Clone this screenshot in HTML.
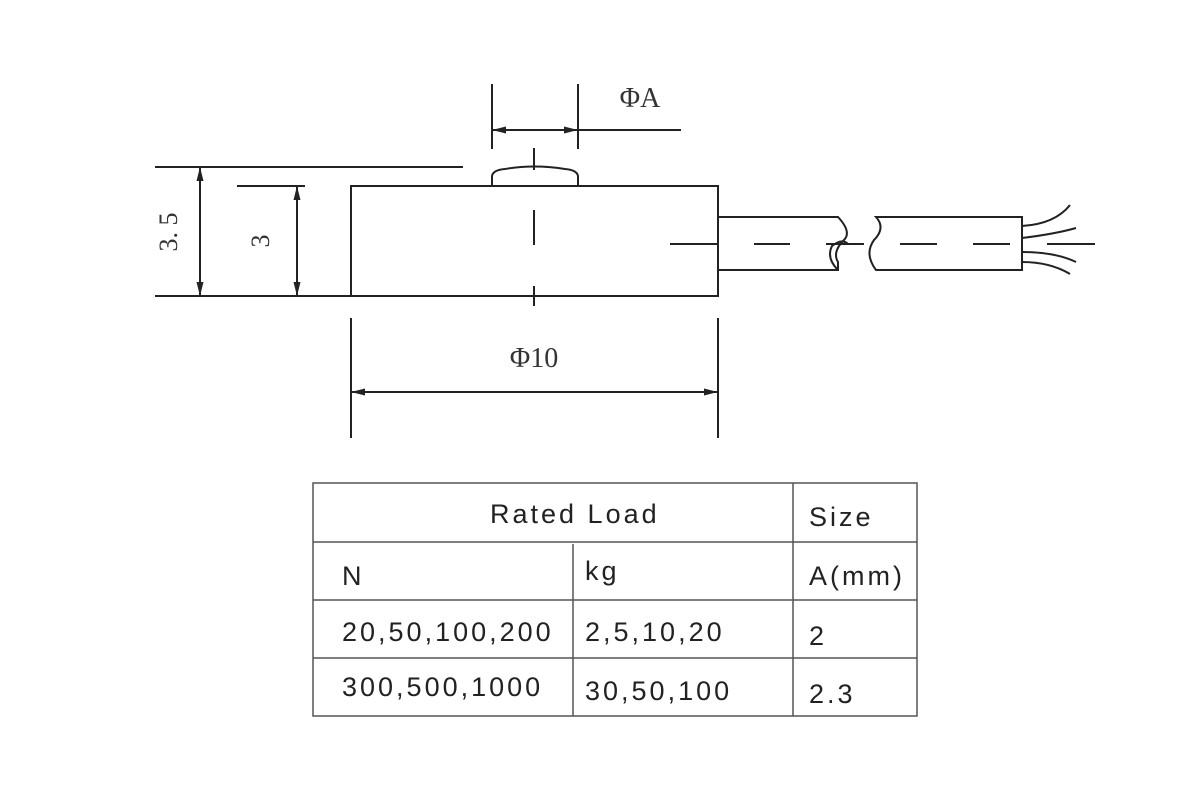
<!DOCTYPE html>
<html><head><meta charset="utf-8"><style>
html,body{margin:0;padding:0;background:#fff;}
svg{display:block;}
.t{font-family:"Liberation Sans",sans-serif;font-size:27px;fill:#222;letter-spacing:3px;}
.s{font-family:"Liberation Serif",serif;fill:#333;}
</style></head><body>
<svg width="1180" height="800" viewBox="0 0 1180 800" xmlns="http://www.w3.org/2000/svg">
<defs>
<marker id="a" markerWidth="14" markerHeight="8" refX="14" refY="4" orient="auto" markerUnits="userSpaceOnUse">
<path d="M0,0.5 L14,4 L0,7.5 Z" fill="#222"/></marker>
<marker id="b" markerWidth="14" markerHeight="8" refX="0" refY="4" orient="auto" markerUnits="userSpaceOnUse">
<path d="M14,0.5 L0,4 L14,7.5 Z" fill="#222"/></marker>
</defs>
<g stroke="#222" stroke-width="2" fill="none">
<!-- main body -->
<rect x="351" y="186" width="367" height="110"/>
<!-- bump -->
<path d="M492,186 L492,176 Q493,170 505,169 Q534,164 565,169 Q577,170 578,176 L578,186"/>
<!-- extension lines -->
<line x1="155" y1="167" x2="463" y2="167"/>
<line x1="155" y1="296" x2="351" y2="296"/>
<line x1="237" y1="186" x2="305" y2="186"/>
<!-- 3.5 dim -->
<line x1="200" y1="167" x2="200" y2="296" marker-start="url(#b)" marker-end="url(#a)"/>
<line x1="297" y1="186" x2="297" y2="296" marker-start="url(#b)" marker-end="url(#a)"/>
<!-- center line -->
<line x1="534" y1="148" x2="534" y2="170"/>
<line x1="534" y1="210" x2="534" y2="245"/>
<line x1="534" y1="286" x2="534" y2="306"/>
<!-- phi A -->
<line x1="492" y1="84" x2="492" y2="149"/>
<line x1="578" y1="84" x2="578" y2="149"/>
<line x1="492" y1="130" x2="578" y2="130" marker-start="url(#b)" marker-end="url(#a)"/>
<line x1="578" y1="130" x2="681" y2="130"/>
<!-- phi 10 -->
<line x1="351" y1="318" x2="351" y2="438"/>
<line x1="718" y1="318" x2="718" y2="438"/>
<line x1="351" y1="392" x2="718" y2="392" marker-start="url(#b)" marker-end="url(#a)"/>
<!-- cable -->
<path d="M718,217 L838,217 Q852,232 844,240 Q832,252 838,262 L838,270 L718,270"/>
<path d="M838,270 Q826,258 832,246 Q842,238 848,244"/>
<path d="M876,217 Q886,228 874,240 Q864,254 876,270 L1022,270 L1022,217 Z"/>
<line x1="670" y1="244" x2="718" y2="244"/>
<line x1="754" y1="244" x2="790" y2="244"/>
<line x1="826" y1="244" x2="864" y2="244"/>
<line x1="900" y1="244" x2="937" y2="244"/>
<line x1="973" y1="244" x2="1010" y2="244"/>
<line x1="1047" y1="244" x2="1095" y2="244"/>
<path d="M1022,226 Q1055,224 1070,205"/>
<path d="M1022,238 Q1055,234 1076,228"/>
<path d="M1022,252 Q1055,252 1076,262"/>
<path d="M1022,262 Q1050,262 1070,274"/>
</g>
<text class="s" font-size="28" x="640" y="107" text-anchor="middle">ΦA</text>
<text class="s" font-size="28" x="534" y="367" text-anchor="middle">Φ10</text>
<text class="s" font-size="26" transform="translate(177,232) rotate(-90)" text-anchor="middle">3. 5</text>
<text class="s" font-size="26" transform="translate(269,241) rotate(-90)" text-anchor="middle">3</text>
<!-- table -->
<g stroke="#555" stroke-width="1.5" fill="none">
<rect x="313" y="483" width="604" height="233"/>
<line x1="313" y1="542" x2="917" y2="542"/>
<line x1="313" y1="600" x2="917" y2="600"/>
<line x1="313" y1="658" x2="917" y2="658"/>
<line x1="793" y1="483" x2="793" y2="716"/>
<line x1="573" y1="544" x2="573" y2="716"/>
</g>
<text class="t" x="490" y="523" letter-spacing="1">Rated Load</text>
<text class="t" x="809" y="526" letter-spacing="1">Size</text>
<text class="t" x="342" y="585">N</text>
<text class="t" x="585" y="580">kg</text>
<text class="t" x="809" y="585" letter-spacing="1">A(mm)</text>
<text class="t" x="342" y="641">20,50,100,200</text>
<text class="t" x="585" y="641">2,5,10,20</text>
<text class="t" x="809" y="645">2</text>
<text class="t" x="342" y="696">300,500,1000</text>
<text class="t" x="585" y="700">30,50,100</text>
<text class="t" x="809" y="703">2.3</text>
</svg>
</body></html>
